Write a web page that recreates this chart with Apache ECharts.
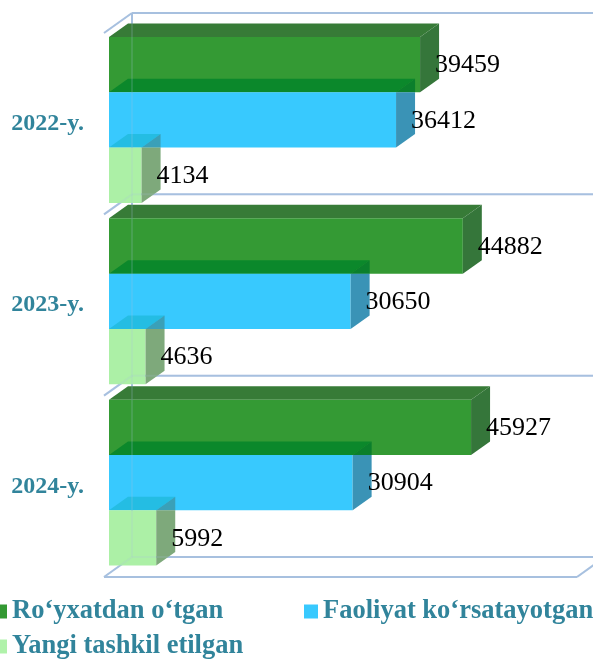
<!DOCTYPE html>
<html>
<head>
<meta charset="utf-8">
<script src="https://cdn.jsdelivr.net/npm/echarts@6/dist/echarts.min.js"></script>
<style>html,body{margin:0;padding:0;background:#fff}#c{width:593px;height:659px}</style>
</head>
<body>
<div id="c"></div>
<script>
const categories = ['2022-y.', '2023-y.', '2024-y.'];
const registered = [39459, 44882, 45927];
const active = [36412, 30650, 30904];
const newlyCreated = [4134, 4636, 5992];
const seriesNames = ['Ro‘yxatdan o‘tgan', 'Faoliyat ko‘rsatayotgan', 'Yangi tashkil etilgan'];
const valueMax = 60000;

const SERIF = "'Liberation Serif', 'Times New Roman', serif";
const TEAL = '#31849b';
const GRID_COLOR = '#a8c0e0';
const FX = 28, FY = -20;      // full depth of 3D box
const BX = 19, BY = -13.5;    // bar depth
const FRONT_SHIFT = 5;        // bar front face offset into depth

const palettes = [
  {front: '#349a34', top: '#377b37', side: '#35763a', topSide: '#35763a', legend: '#339933'},
  {front: '#38c9fe', top: '#0b882b', side: '#3a93b6', topSide: '#0b7f2c', legend: '#38c9fe'},
  {front: '#acf0a6', top: '#24bde3', side: '#7ea97b', topSide: '#3aa0b8', legend: '#b0f2aa'}
];

function barRender(idx) {
  const pal = palettes[idx];
  return function (params, api) {
    const cat = api.value(0);
    const v = api.value(1);
    const p0 = api.coord([0, cat]);
    const p1 = api.coord([v, cat]);
    const band = api.size([0, 1])[1];
    const bandTop = p0[1] - band / 2;
    const barH = band * 0.305;
    const yt = bandTop + band * 0.022 + idx * barH;
    const yb = yt + barH;
    const xl = p0[0] + FRONT_SHIFT;
    const xr = p1[0] + FRONT_SHIFT;
    const children = [];
    children.push({type: 'polygon', shape: {points: [[xl, yt], [xl + BX, yt + BY], [xr + BX, yt + BY], [xr, yt]]}, style: {fill: pal.top}});
    children.push({type: 'rect', shape: {x: xl, y: yt, width: xr - xl, height: barH}, style: {fill: pal.front}});
    if (idx === 0) {
      children.push({type: 'polygon', shape: {points: [[xr, yt], [xr + BX, yt + BY], [xr + BX, yb + BY], [xr, yb]]}, style: {fill: pal.side}});
    } else {
      children.push({type: 'polygon', shape: {points: [[xr, yt], [xr + BX, yt + BY], [xr + BX, yt]]}, style: {fill: pal.topSide}});
      children.push({type: 'polygon', shape: {points: [[xr, yt], [xr + BX, yt], [xr + BX, yb + BY], [xr, yb]]}, style: {fill: pal.side}});
    }
    children.push({type: 'text', x: xr + 15, y: (yt + yb) / 2 + 1, style: {text: String(v), fill: '#000', font: '26px ' + SERIF, verticalAlign: 'middle', align: 'left'}});
    return {type: 'group', children: children};
  };
}

function frameRender(opacity) {
  return function (params, api) {
    const j = api.value(0);
    const p = api.coord([0, j]);
    const pr = api.coord([valueMax, j]);
    const band = api.size([0, 1])[1];
    const top = p[1] - band / 2, bot = p[1] + band / 2;
    const xl = p[0], xr = pr[0];
    const segs = [
      [[xl, top], [xl + FX, top + FY]],
      [[xl + FX, top + FY], [xr + FX + 30, top + FY]],
      [[xl + FX, top + FY], [xl + FX, bot + FY]]
    ];
    if (j === categories.length - 1) {
      segs.push([[xl, bot], [xl + FX, bot + FY]]);
      segs.push([[xl + FX, bot + FY], [xr + FX + 30, bot + FY]]);
      segs.push([[xl, bot], [xr, bot]]);
      segs.push([[xr, bot], [xr + FX, bot + FY]]);
    }
    return {
      type: 'group',
      children: segs.map(s => ({type: 'line', shape: {x1: s[0][0], y1: s[0][1], x2: s[1][0], y2: s[1][1]}, style: {stroke: GRID_COLOR, lineWidth: 2, opacity: opacity}}))
    };
  };
}

const allValues = [registered, active, newlyCreated];
const series = [];
series.push({type: 'custom', name: '_frame', z: 1, silent: true, renderItem: frameRender(1), encode: {y: 0}, data: categories.map((c, j) => [j])});
allValues.forEach((vals, i) => {
  series.push({
    type: 'custom', name: seriesNames[i], z: 2,
    itemStyle: {color: palettes[i].legend},
    renderItem: barRender(i),
    encode: {x: 1, y: 0},
    data: vals.map((v, j) => [j, v])
  });
});
series.push({type: 'custom', name: '_frame2', z: 3, silent: true, renderItem: frameRender(0.18), encode: {y: 0}, data: categories.map((c, j) => [j])});

const legendText = {fontFamily: SERIF, fontSize: 26.5, fontWeight: 'bold', color: TEAL};
const legendBase = {icon: 'rect', itemWidth: 14, itemHeight: 14, padding: 0, textStyle: legendText, selectedMode: false};
const chart = echarts.init(document.getElementById('c'), null, {renderer: 'canvas'});
chart.setOption({
  animation: false,
  grid: {left: 104, right: 16, top: 33, bottom: 82},
  xAxis: {type: 'value', min: 0, max: valueMax, show: false},
  yAxis: {
    type: 'category', data: categories, inverse: true,
    axisLine: {show: false}, axisTick: {show: false}, splitLine: {show: false},
    axisLabel: {margin: 20, fontFamily: SERIF, fontSize: 24, fontWeight: 'bold', color: TEAL}
  },
  legend: [
    Object.assign({data: [seriesNames[0]], left: -7, top: 598}, legendBase),
    Object.assign({data: [seriesNames[1]], left: 304, top: 598}, legendBase),
    Object.assign({data: [seriesNames[2]], left: -7, top: 633}, legendBase)
  ],
  series: series
});
</script>
</body>
</html>
